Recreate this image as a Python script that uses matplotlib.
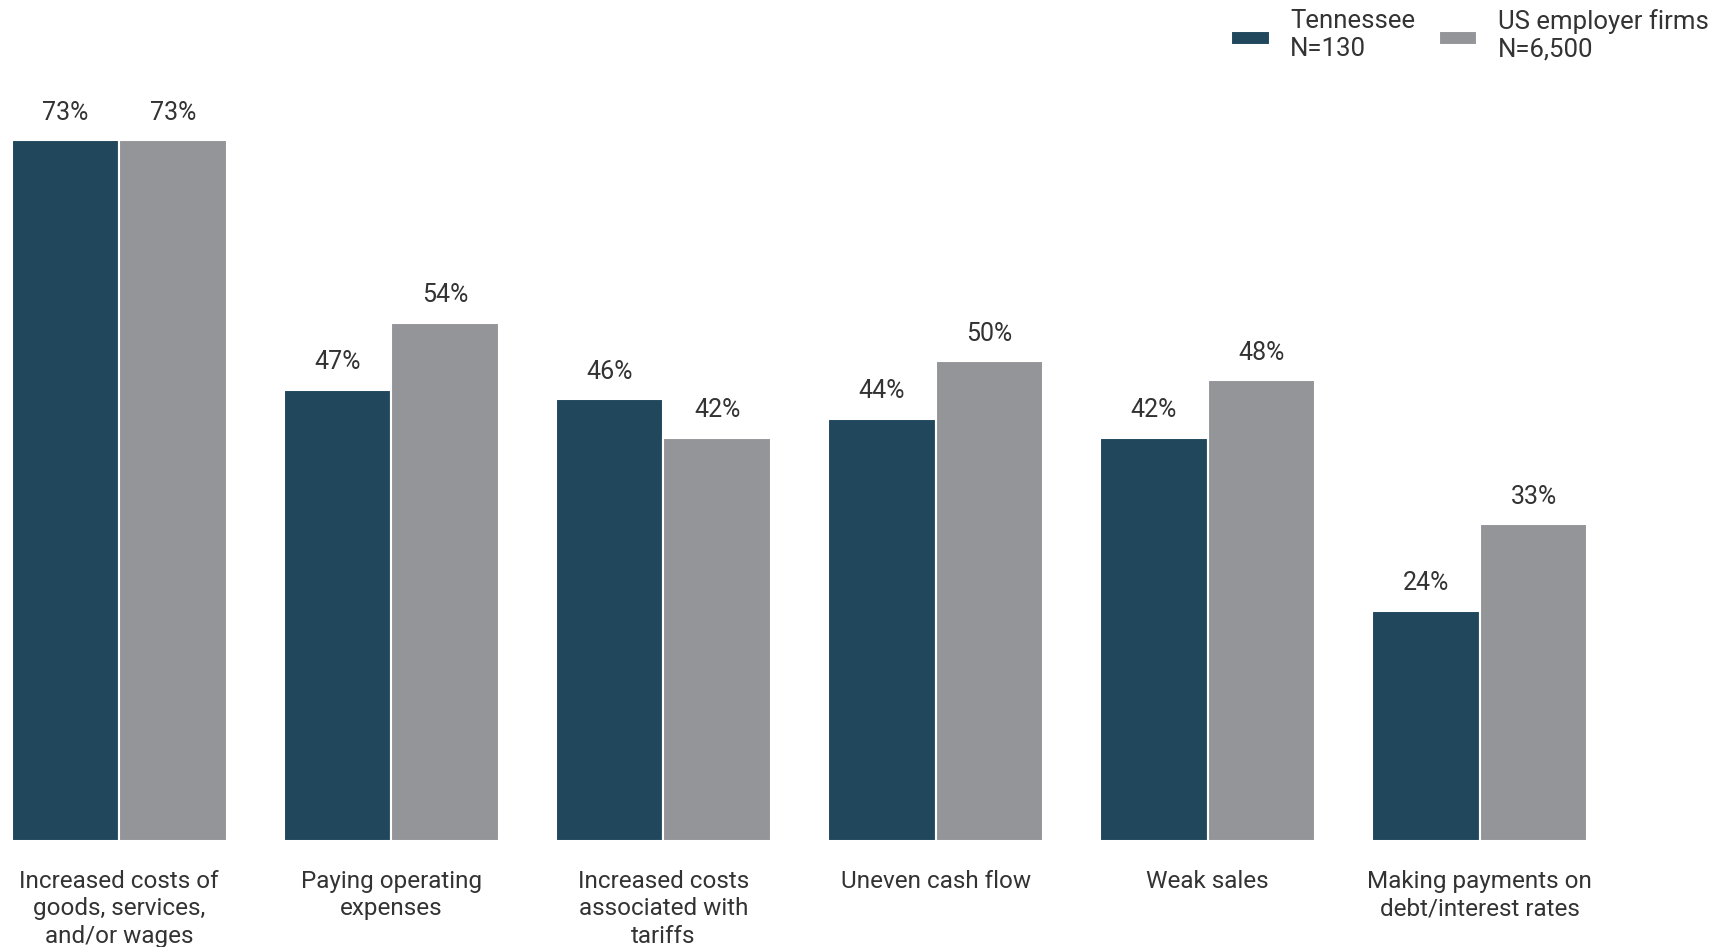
import matplotlib.pyplot as plt
import numpy as np

categories = ['Increased costs of\ngoods, services,\nand/or wages',
              'Paying operating\nexpenses',
              'Increased costs\nassociated with\ntariffs',
              'Uneven cash flow',
              'Weak sales',
              'Making payments on\ndebt/interest rates']
tennessee = [73, 47, 46, 44, 42, 24]
us_firms = [73, 54, 42, 50, 48, 33]
series_names = ['Tennessee\nN=130', 'US employer firms\nN=6,500']
colors = ['#20475c', '#939598']

plt.rcParams['font.family'] = ['Roboto', 'DejaVu Sans']

fig = plt.figure(figsize=(17.24, 9.47), dpi=100)
ax = fig.add_axes([0, 0.112, 1, 0.888])

x = np.arange(len(categories))
w = 0.395
b1 = ax.bar(x - w / 2, tennessee, w, color=colors[0], edgecolor='white', linewidth=1.5, label=series_names[0])
b2 = ax.bar(x + w / 2, us_firms, w, color=colors[1], edgecolor='white', linewidth=1.5, label=series_names[1])

for bars in (b1, b2):
    for r in bars:
        ax.annotate(f'{r.get_height():.0f}%', (r.get_x() + r.get_width() / 2, r.get_height()),
                    xytext=(0, 11), textcoords='offset points', ha='center', va='bottom',
                    fontsize=18, color='#333333')

for i, c in enumerate(categories):
    ax.text(i, -3.0, c, ha='center', va='top', fontsize=17.5, color='#333333',
            linespacing=1.25)

ax.set_xlim(-0.438, 5.897)
ax.set_ylim(0, 87.6)
ax.axis('off')

leg = ax.legend(loc='upper right', ncol=2, frameon=False, fontsize=18.5,
                bbox_to_anchor=(1.0, 1.008), handlelength=1.5, handleheight=0.45,
                columnspacing=0.9, handletextpad=0.8, labelcolor='#333333',
                borderaxespad=0.3, borderpad=0.3)
for h in leg.legend_handles:
    h.set_y(h.get_y() - 2)

fig.savefig('out.png', dpi=100)
